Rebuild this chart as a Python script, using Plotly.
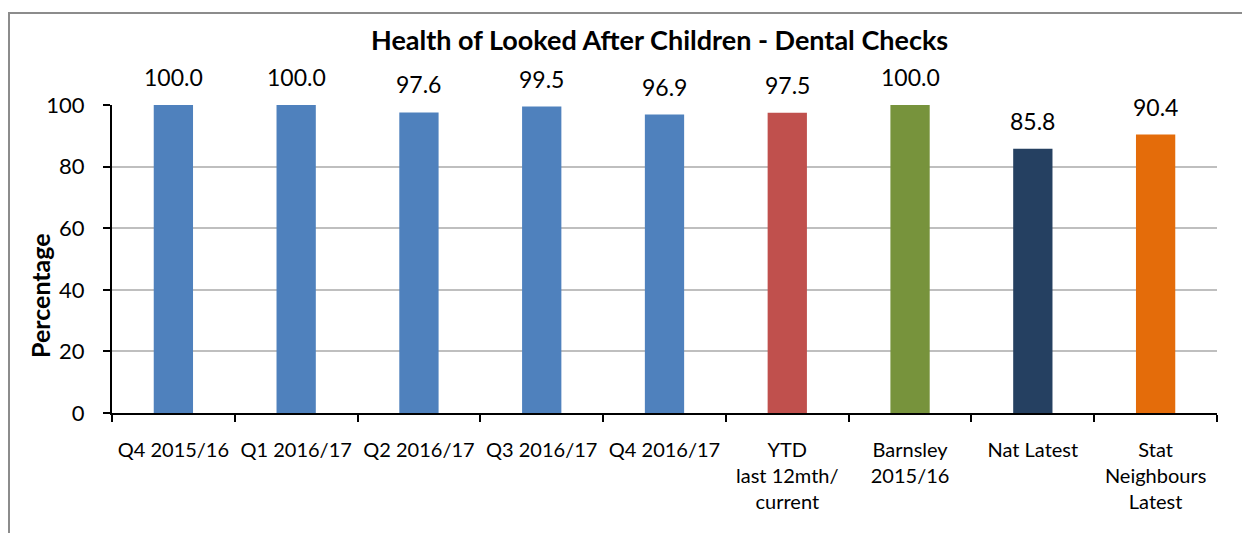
import plotly.graph_objects as go

categories = ["Q4 2015/16", "Q1 2016/17", "Q2 2016/17", "Q3 2016/17", "Q4 2016/17",
              "YTD<br>last 12mth/<br>current", "Barnsley<br>2015/16", "Nat Latest",
              "Stat<br>Neighbours<br>Latest"]
values = [100.0, 100.0, 97.6, 99.5, 96.9, 97.5, 100.0, 85.8, 90.4]
colors = ["#4F81BD", "#4F81BD", "#4F81BD", "#4F81BD", "#4F81BD",
          "#C0504D", "#77933C", "#254061", "#E46C0A"]
title = "Health of Looked After Children - Dental Checks"
y_title = "Percentage"
y_ticks = [0, 20, 40, 60, 80, 100]

FONT = "Lato"
OFF = 8  # default body margin of the html page
W, H = 1250 - OFF, 533 - OFF
L, T = 112 - OFF, 105 - OFF
R, B = 33, 120
pw, ph = W - L - R, H - T - B


def px(x):  # page pixel x -> paper
    return (x - OFF - L) / pw


def py(y):  # page pixel y -> paper
    return 1 - (y - OFF - T) / ph


fig = go.Figure()
fig.add_trace(go.Bar(x=categories, y=values, marker_color=colors, width=0.32,
                     marker_line_width=0, showlegend=False))

for c, v in zip(categories, values):
    fig.add_annotation(x=c, y=v, text=f"{v:.1f}", showarrow=False, yshift=28,
                       font=dict(family=FONT, size=23, color="black"))

fig.add_annotation(xref="paper", yref="paper", x=px(659), y=py(40),
                   xanchor="center", yanchor="middle",
                   text=f"<b>{title}</b>", showarrow=False,
                   font=dict(family=FONT, size=27, color="black"))
fig.add_annotation(xref="paper", yref="paper", x=px(40), y=py(296),
                   xanchor="center", yanchor="middle",
                   text=f"<b>{y_title}</b>", showarrow=False, textangle=-90,
                   font=dict(family=FONT, size=25, color="black"))

# outer chart border
fig.add_shape(type="rect", xref="paper", yref="paper",
              x0=px(9), x1=px(1270), y0=py(560), y1=py(13),
              line=dict(color="#8C8C8C", width=2), fillcolor="rgba(0,0,0,0)")

fig.update_layout(
    width=W, height=H, margin=dict(l=L, r=R, t=T, b=B),
    plot_bgcolor="white", paper_bgcolor="white",
    font=dict(family=FONT, size=20, color="black"),
)
fig.update_xaxes(type="category", showline=True, linecolor="black", linewidth=2,
                 ticks="outside", tickson="boundaries", ticklen=7, tickwidth=2,
                 tickcolor="black", tickfont=dict(family=FONT, size=20),
                 ticklabelstandoff=18, showgrid=False, range=[-0.5, 8.5])
fig.update_yaxes(range=[0, 100], tickvals=y_ticks, showline=True, linecolor="black",
                 linewidth=2, ticks="outside", ticklen=7, tickwidth=2, tickcolor="black",
                 showgrid=True, gridcolor="#BFBFBF", gridwidth=2, zeroline=False,
                 tickfont=dict(family=FONT, size=22), ticklabelstandoff=14)

fig.write_html("out.html")
